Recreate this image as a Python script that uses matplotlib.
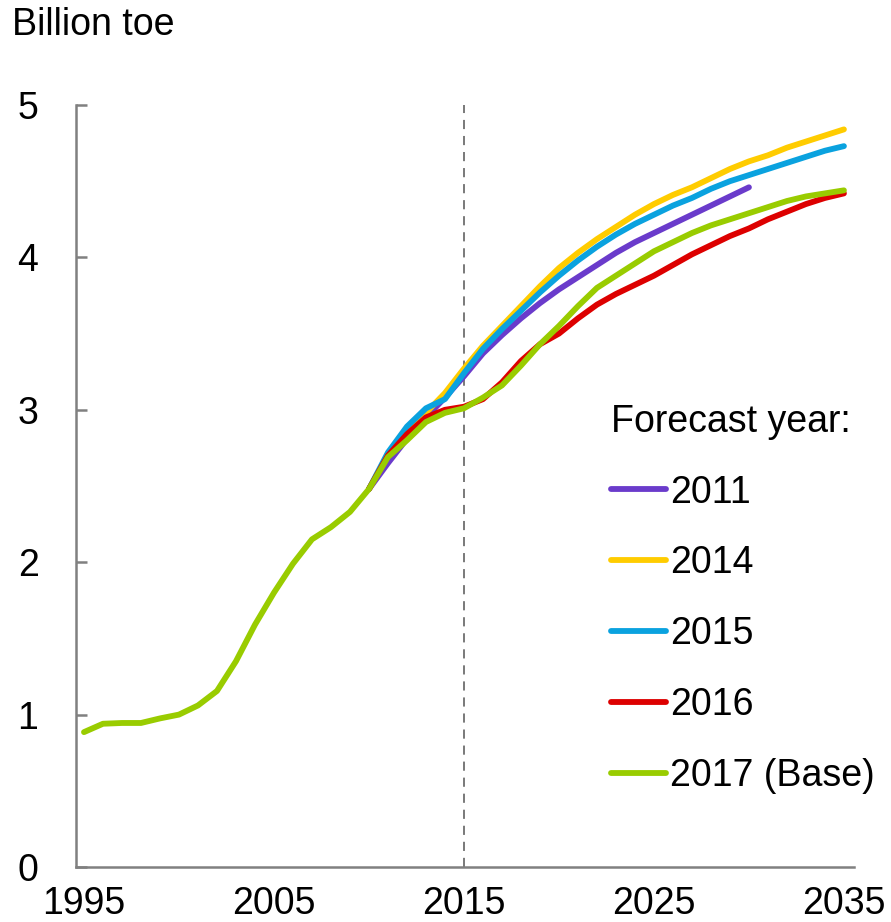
import numpy as np
import matplotlib
matplotlib.use("Agg")
import matplotlib.pyplot as plt

plt.rcParams['font.family'] = ['Liberation Sans', 'DejaVu Sans']

# data (billion toe)
years_base = list(range(1995, 2036))
base_2017 = [0.885, 0.94, 0.945, 0.945, 0.975, 1.00, 1.06, 1.155, 1.35, 1.59,
             1.80, 1.99, 2.15, 2.23, 2.33, 2.48, 2.69, 2.80, 2.92, 2.98,
             3.01, 3.08, 3.16, 3.29, 3.43, 3.55, 3.68, 3.80, 3.88, 3.96,
             4.04, 4.10, 4.16, 4.21, 4.25, 4.29, 4.33, 4.37, 4.40, 4.42, 4.44]

years_2016 = list(range(2010, 2036))
fc_2016 = [2.48, 2.70, 2.84, 2.95, 3.00, 3.02, 3.07, 3.18, 3.32, 3.43,
           3.50, 3.60, 3.69, 3.76, 3.82, 3.88, 3.95, 4.02, 4.08, 4.14,
           4.19, 4.25, 4.30, 4.35, 4.39, 4.42]

years_2015 = list(range(2010, 2036))
fc_2015 = [2.48, 2.72, 2.89, 3.01, 3.07, 3.24, 3.40, 3.53, 3.65, 3.77,
           3.88, 3.98, 4.07, 4.15, 4.22, 4.28, 4.34, 4.39, 4.45, 4.50,
           4.54, 4.58, 4.62, 4.66, 4.70, 4.73]

years_2014 = list(range(2010, 2036))
fc_2014 = [2.48, 2.70, 2.86, 2.98, 3.11, 3.27, 3.42, 3.55, 3.68, 3.81,
           3.93, 4.03, 4.12, 4.20, 4.28, 4.35, 4.41, 4.46, 4.52, 4.58,
           4.63, 4.67, 4.72, 4.76, 4.80, 4.84]

years_2011 = list(range(2010, 2031))
fc_2011 = [2.48, 2.65, 2.81, 2.95, 3.08, 3.22, 3.37, 3.49, 3.60, 3.70,
           3.79, 3.87, 3.95, 4.03, 4.10, 4.16, 4.22, 4.28, 4.34, 4.40, 4.46]

series = [
    (years_2011, fc_2011, "2011", "#6A3BCB"),
    (years_2014, fc_2014, "2014", "#FFCC00"),
    (years_2015, fc_2015, "2015", "#0AA2DF"),
    (years_2016, fc_2016, "2016", "#DD0000"),
    (years_base, base_2017, "2017 (Base)", "#99CC00"),
]

fig = plt.figure(figsize=(8.91, 9.22), dpi=100)
ax = fig.add_axes([76/891, 55/922, 778/891, 762/922])

ax.axvline(2015, color="#555555", lw=1.1, ls=(0, (6, 4.5)), zorder=1)

for x, y, lab, col in series:
    ax.plot(x, y, color=col, lw=4.2, label=lab, solid_capstyle="round",
            solid_joinstyle="round", zorder=2)

ax.set_xlim(1994.58, 2035.53)
ax.set_ylim(0, 5)
ax.set_xticks([1995, 2005, 2015, 2025, 2035])
ax.set_yticks([0, 1, 2, 3, 4, 5])

for s in ["top", "right"]:
    ax.spines[s].set_visible(False)
for s in ["left", "bottom"]:
    ax.spines[s].set_color("#808080")
    ax.spines[s].set_linewidth(1.8)

ax.tick_params(axis="y", direction="in", length=8, width=1.8, color="#808080",
               labelsize=27, pad=27)
ax.tick_params(axis="x", length=0, labelsize=27, pad=14)

fig.text(12/891, 1 - 35/922, "Billion toe", fontsize=27, va="baseline", ha="left")

leg = ax.legend(title="Forecast year:", loc="upper left",
                bbox_to_anchor=(0.688, 0.608), frameon=False, fontsize=27,
                title_fontsize=27, handlelength=1.47, handletextpad=0.1,
                labelspacing=0.93, borderaxespad=0, borderpad=0)
leg._legend_box.align = "left"
for h in leg.get_lines():
    h.set_linewidth(4.2)
    h.set_solid_capstyle("round")

fig.savefig("out.png", dpi=100)
